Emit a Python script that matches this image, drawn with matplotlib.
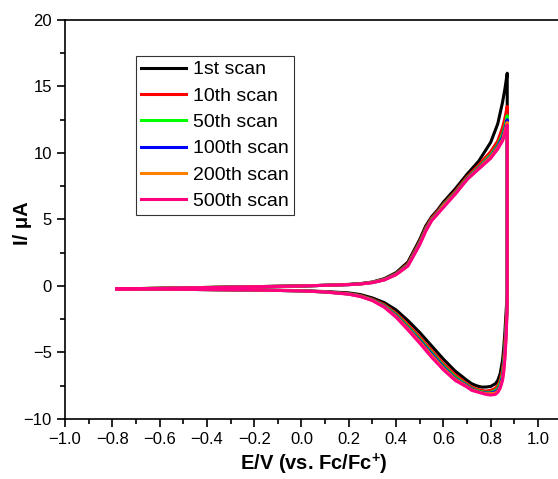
import numpy as np
import matplotlib
matplotlib.use("Agg")
import matplotlib.pyplot as plt
from matplotlib.ticker import MultipleLocator

plt.rcParams['font.family'] = ['Liberation Sans', 'DejaVu Sans']
plt.rcParams['mathtext.fontset'] = 'custom'
plt.rcParams['mathtext.rm'] = 'Liberation Sans'
plt.rcParams['mathtext.bf'] = 'Liberation Sans:bold'

# potentials (V vs Fc/Fc+) for the forward (anodic) and reverse (cathodic) sweeps
E_fwd = [-0.78, -0.6, -0.4, -0.2, 0.0, 0.1, 0.2, 0.25, 0.3, 0.35, 0.4, 0.45, 0.5,
         0.525, 0.55, 0.575, 0.6, 0.65, 0.7, 0.75, 0.8, 0.83, 0.85, 0.86, 0.87]
E_rev = [0.87, 0.865, 0.86, 0.855, 0.85, 0.84, 0.83, 0.82, 0.80, 0.78, 0.76, 0.74,
         0.72, 0.70, 0.65, 0.60, 0.55, 0.50, 0.45, 0.40, 0.35, 0.30, 0.25, 0.20,
         0.10, 0.0, -0.2, -0.4, -0.6, -0.78]

labels = ["1st scan", "10th scan", "50th scan", "100th scan", "200th scan", "500th scan"]
colors = ["#000000", "#ff0000", "#00ff00", "#0000ff", "#ff8000", "#ff0080"]

# current (uA) on forward sweep
I_fwd = [
    [-0.22, -0.17, -0.11, -0.05, 0.0, 0.05, 0.12, 0.18, 0.30, 0.55, 1.00, 1.80, 3.50,
     4.50, 5.20, 5.70, 6.30, 7.30, 8.40, 9.40, 10.8, 12.2, 13.8, 14.8, 16.0],
    [-0.22, -0.17, -0.11, -0.05, 0.0, 0.05, 0.11, 0.17, 0.28, 0.50, 0.93, 1.68, 3.35,
     4.35, 5.10, 5.60, 6.15, 7.10, 8.20, 9.10, 10.1, 10.9, 11.9, 12.6, 13.5],
    [-0.22, -0.17, -0.11, -0.05, 0.0, 0.05, 0.11, 0.16, 0.27, 0.48, 0.90, 1.60, 3.25,
     4.25, 5.00, 5.50, 6.10, 7.00, 8.10, 8.95, 9.85, 10.6, 11.4, 12.0, 12.8],
    [-0.22, -0.18, -0.12, -0.06, 0.0, 0.05, 0.10, 0.16, 0.26, 0.47, 0.88, 1.56, 3.20,
     4.20, 4.95, 5.45, 6.05, 6.95, 8.05, 8.90, 9.75, 10.5, 11.2, 11.8, 12.5],
    [-0.22, -0.18, -0.12, -0.06, 0.0, 0.05, 0.10, 0.15, 0.26, 0.46, 0.86, 1.53, 3.15,
     4.15, 4.92, 5.42, 6.02, 6.92, 8.02, 8.85, 9.70, 10.4, 11.0, 11.6, 12.3],
    [-0.22, -0.18, -0.12, -0.06, 0.0, 0.05, 0.10, 0.15, 0.25, 0.45, 0.85, 1.50, 3.10,
     4.10, 4.90, 5.40, 5.90, 6.90, 8.00, 8.80, 9.60, 10.3, 10.9, 11.4, 12.1],
]

# current (uA) on reverse sweep
I_rev = [
    [-0.5, -2.0, -3.5, -4.7, -5.6, -6.6, -7.1, -7.35, -7.55, -7.6, -7.6, -7.5, -7.35,
     -7.1, -6.4, -5.5, -4.5, -3.5, -2.6, -1.8, -1.25, -0.9, -0.65, -0.52, -0.42, -0.35,
     -0.3, -0.27, -0.24, -0.22],
    [-1.0, -2.8, -4.3, -5.5, -6.3, -7.1, -7.5, -7.7, -7.85, -7.9, -7.85, -7.75, -7.6,
     -7.35, -6.7, -5.85, -4.85, -3.85, -2.9, -2.05, -1.4, -1.0, -0.72, -0.57, -0.44, -0.36,
     -0.3, -0.27, -0.24, -0.22],
    [-1.2, -3.2, -4.7, -5.8, -6.6, -7.3, -7.7, -7.85, -8.0, -8.0, -7.95, -7.85, -7.7,
     -7.45, -6.85, -6.0, -5.0, -4.0, -3.05, -2.15, -1.48, -1.04, -0.75, -0.59, -0.45, -0.37,
     -0.3, -0.27, -0.24, -0.22],
    [-1.3, -3.5, -5.0, -6.1, -6.8, -7.5, -7.8, -7.95, -8.05, -8.05, -8.0, -7.9, -7.75,
     -7.5, -6.95, -6.1, -5.1, -4.1, -3.15, -2.22, -1.52, -1.06, -0.77, -0.6, -0.45, -0.37,
     -0.3, -0.27, -0.24, -0.22],
    [-1.4, -3.8, -5.3, -6.3, -7.0, -7.6, -7.9, -8.05, -8.1, -8.1, -8.02, -7.92, -7.8,
     -7.55, -7.02, -6.2, -5.22, -4.2, -3.22, -2.28, -1.56, -1.08, -0.78, -0.61, -0.45, -0.37,
     -0.3, -0.27, -0.24, -0.22],
    [-1.5, -4.0, -5.5, -6.5, -7.1, -7.7, -8.0, -8.15, -8.2, -8.15, -8.05, -7.95, -7.85,
     -7.6, -7.1, -6.3, -5.35, -4.3, -3.3, -2.35, -1.6, -1.1, -0.8, -0.62, -0.45, -0.37,
     -0.3, -0.27, -0.24, -0.22],
]

fig = plt.figure(figsize=(5.58, 4.79), dpi=100)
ax = fig.add_axes([0.1165, 0.1253, 0.890, 0.833])

for lab, col, fw, rv in zip(labels, colors, I_fwd, I_rev):
    E = E_fwd + E_rev
    I = fw + rv
    ax.plot(E, I, color=col, lw=2.2, label=lab, solid_joinstyle='round')

ax.set_xlim(-1.0, 1.1)
ax.set_ylim(-10, 20)
ax.xaxis.set_minor_locator(MultipleLocator(0.1))
ax.yaxis.set_major_locator(MultipleLocator(5))
ax.yaxis.set_minor_locator(MultipleLocator(2.5))
ax.set_xticks(np.arange(-1.0, 1.01, 0.2))
ax.set_xticklabels(["\u22121.0", "\u22120.8", "\u22120.6", "\u22120.4", "\u22120.2",
                    "0.0", "0.2", "0.4", "0.6", "0.8", "1.0"])
ax.tick_params(which='major', direction='out', length=6, width=1.2, labelsize=12)
ax.tick_params(which='minor', direction='out', length=3.5, width=1.2)
for s in ax.spines.values():
    s.set_linewidth(1.2)

ax.set_xlabel(r"E/V (vs. Fc/Fc$^{\mathbf{+}}$)", fontsize=14.5, fontweight='bold', labelpad=3)
ax.set_ylabel("I/ \u03bcA", fontsize=14.5, fontweight='bold')
ax.yaxis.set_label_coords(-0.066, 0.49)

leg = ax.legend(loc='upper left', bbox_to_anchor=(0.143, 0.91), fontsize=14,
                frameon=True, fancybox=False, edgecolor='black', handlelength=2.3,
                handletextpad=0.4, labelspacing=0.45, borderpad=0.25, borderaxespad=0)
leg.get_frame().set_linewidth(0.8)
for h in leg.get_lines():
    h.set_linewidth(2.2)

fig.savefig("out.png", dpi=100)
